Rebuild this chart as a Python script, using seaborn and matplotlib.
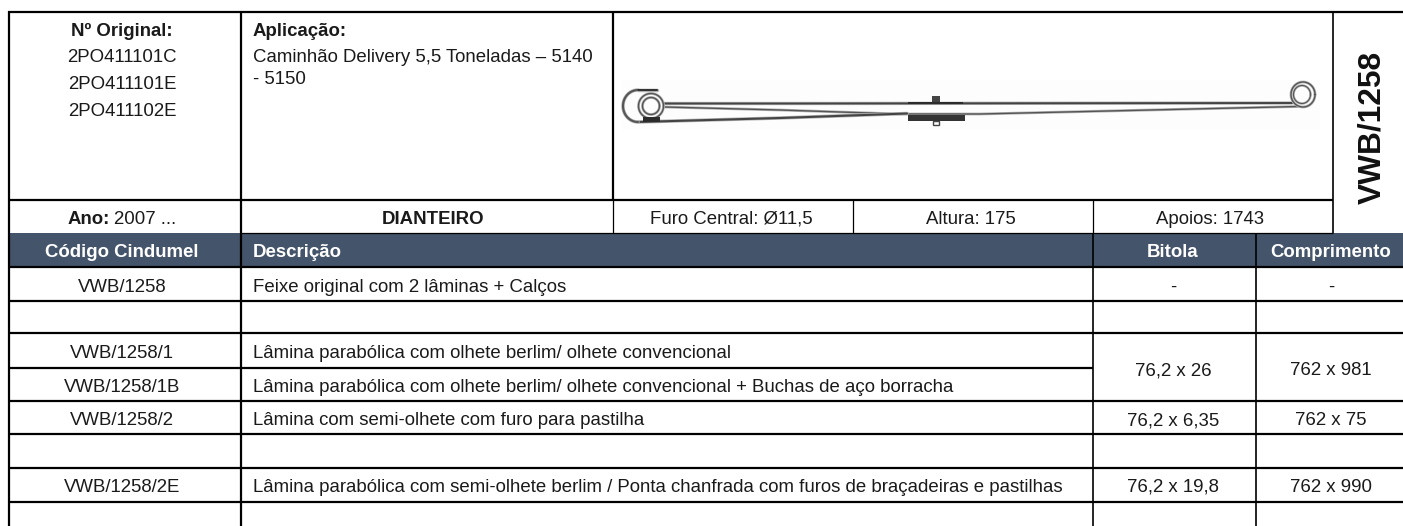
import numpy as np
import pandas as pd
import matplotlib
matplotlib.use("Agg")
import matplotlib.pyplot as plt
from matplotlib.patches import Rectangle
import seaborn as sns

W, H = 1403, 526
HEADER_BLUE = "#44546A"

originais = ["2PO411101C", "2PO411101E", "2PO411102E"]
aplicacao = ["Caminhão Delivery 5,5 Toneladas – 5140", "- 5150"]
info_labels = ["Furo Central: Ø11,5", "Altura: 175", "Apoios: 1743"]
colunas = ["Código Cindumel", "Descrição", "Bitola", "Comprimento"]
codigos = ["VWB/1258", "", "VWB/1258/1", "VWB/1258/1B", "VWB/1258/2", "", "VWB/1258/2E"]
descricoes = [
    "Feixe original com 2 lâminas + Calços",
    "",
    "Lâmina parabólica com olhete berlim/ olhete convencional",
    "Lâmina parabólica com olhete berlim/ olhete convencional + Buchas de aço borracha",
    "Lâmina com semi-olhete com furo para pastilha",
    "",
    "Lâmina parabólica com semi-olhete berlim / Ponta chanfrada com furos de braçadeiras e pastilhas",
]
bitolas = ["-", "", "76,2 x 26", "", "76,2 x 6,35", "", "76,2 x 19,8"]
comprimentos = ["-", "", "762 x 981", "", "762 x 75", "", "762 x 990"]
row_base = [291.5, 325, 358.5, 392, 425, 459, 492]


def draw_curve(ax, xs, ys, color="#555555", lw=1.2):
    # soft grey underlay imitates the blurry scanned drawing
    df = pd.DataFrame({"x": xs, "y": ys})
    sns.lineplot(data=df, x="x", y="y", ax=ax, estimator=None, sort=False,
                 color="#b5b5b5", lw=lw + 1.0, legend=False)
    sns.lineplot(data=df, x="x", y="y", ax=ax, estimator=None, sort=False,
                 color=color, lw=lw, legend=False)


def draw_spring(ax):
    ax.add_patch(Rectangle((622, 80), 698, 50, color="#fdfdfd", lw=0, zorder=0))
    # main leaf and second leaf
    draw_curve(ax, [664, 800, 1292], [103.5, 103.5, 103], color="#444444", lw=1.4)
    draw_curve(ax, [664, 780, 900, 980, 1150, 1298], [107, 110, 114, 114, 110, 106.5], lw=1.0)
    draw_curve(ax, [638, 780, 907], [122, 118, 113.5], color="#444444", lw=1.5)
    # left eye
    t = np.linspace(0, 2 * np.pi, 80)
    draw_curve(ax, 651 + 12.5 * np.cos(t), 106 + 12.5 * np.sin(t), lw=1.0)
    draw_curve(ax, 651 + 8.5 * np.cos(t), 106 + 8.5 * np.sin(t), lw=1.0)
    # outer wrap of the left eye
    t = np.linspace(np.pi / 2, 3 * np.pi / 2, 50)
    draw_curve(ax, 638 + 15 * np.cos(t), 106 + 16 * np.sin(t), lw=1.5)
    draw_curve(ax, [638, 657], [90, 90], color="#333333", lw=1.5)
    ax.add_patch(Rectangle((643, 117), 17, 5, color="#2b2b2b", lw=0, zorder=3))
    # right eye
    t = np.linspace(0, 2 * np.pi, 80)
    draw_curve(ax, 1303 + 12 * np.cos(t), 94.5 + 12.5 * np.sin(t), lw=1.0)
    draw_curve(ax, 1302 + 8.5 * np.cos(t), 94.5 + 9 * np.sin(t), lw=0.8)
    # centre clamp
    ax.add_patch(Rectangle((908, 101.5), 55, 2.5, color="#2b2b2b", lw=0, zorder=3))
    ax.add_patch(Rectangle((908, 115), 57, 6, color="#333333", lw=0, zorder=3))
    ax.add_patch(Rectangle((932, 96), 8, 6, color="#444444", lw=0, zorder=3))
    ax.add_patch(Rectangle((933, 121), 6, 4, color="white", ec="#444444", lw=1, zorder=3))


def draw_grid(ax):
    ax.add_patch(Rectangle((9, 233), W - 9, 34, color=HEADER_BLUE, lw=0, zorder=1))
    thick, thin = 1.6, 0.9
    for y, x0, x1, lw in [(12, 8, W, thick), (200, 8, 1333, thick), (233, 241, 1333, thin),
                          (267, 8, W, thick), (301, 8, W, thick), (333, 8, W, thick),
                          (368, 8, 1093, thick), (401, 8, W, thick), (434, 8, W, thick),
                          (468, 8, W, thick), (502, 8, W, thick)]:
        ax.plot([x0, x1], [y, y], color="black", lw=lw, solid_capstyle="butt", zorder=4)
    for x, y0, y1, lw in [(9, 11, H, thick), (241, 11, H, thick), (613, 11, 200, thick),
                          (613, 200, 233, thin), (853, 200, 233, thin), (1093, 200, 233, thin),
                          (1093, 233, H, 1.2), (1256, 233, H, 1.2), (1333, 11, 233, 1.2)]:
        ax.plot([x, x], [y0, y1], color="black", lw=lw, solid_capstyle="butt", zorder=4)


def draw_text(ax):
    fs = 13.44
    kw = dict(va="baseline", color="#1a1a1a", zorder=5)
    ax.text(122, 35.5, "Nº Original:", fontsize=fs, fontweight="bold", ha="center", **kw)
    for y, s in zip([62.5, 89, 115.5], originais):
        ax.text(122, y, s, fontsize=fs, ha="center", **kw)
    ax.text(253, 35.5, "Aplicação:", fontsize=fs, fontweight="bold", ha="left", **kw)
    for y, s in zip([62.5, 83.5], aplicacao):
        ax.text(253, y, s, fontsize=fs, ha="left", **kw)

    ax.text(68, 224, "Ano:", fontsize=fs, fontweight="bold", ha="left", **kw)
    ax.text(114, 224, "2007 ...", fontsize=fs, ha="left", **kw)
    ax.text(433, 224, "DIANTEIRO", fontsize=fs, fontweight="bold", ha="center", **kw)
    for x, s in zip([731, 971, 1210], info_labels):
        ax.text(x, 224, s, fontsize=fs, ha="center", **kw)

    for x, s, ha in zip([122, 253, 1173, 1331], colunas, ["center", "left", "center", "center"]):
        ax.text(x, 257, s, fontsize=fs, fontweight="bold", color="white", ha=ha, va="baseline", zorder=5)

    for y, cod, desc, bit, comp in zip(row_base, codigos, descricoes, bitolas, comprimentos):
        ax.text(122, y, cod, fontsize=fs, ha="center", **kw)
        ax.text(253, y, desc, fontsize=fs, ha="left", **kw)
        # the 76,2 x 26 row is merged over two table rows
        y_m = 375 if bit == "76,2 x 26" else y
        ax.text(1173, y_m, bit, fontsize=fs, ha="center", **kw)
        ax.text(1331, y_m, comp, fontsize=fs, ha="center", **kw)

    ax.text(1387, 127, "VWB/1258", fontsize=22.8, fontweight="bold", rotation=90,
            ha="right", va="center", color="#111111", zorder=5)


def main():
    sns.set_theme(style="white")
    plt.rcParams["font.family"] = ["Liberation Sans", "DejaVu Sans"]
    fig = plt.figure(figsize=(W / 100, H / 100), dpi=100)
    ax = fig.add_axes([0, 0, 1, 1])
    draw_spring(ax)
    draw_grid(ax)
    draw_text(ax)
    ax.set_xlim(0, W)
    ax.set_ylim(H, 0)
    ax.axis("off")
    fig.savefig("out.png", dpi=100, facecolor="white")
    plt.close(fig)


if __name__ == "__main__":
    main()
